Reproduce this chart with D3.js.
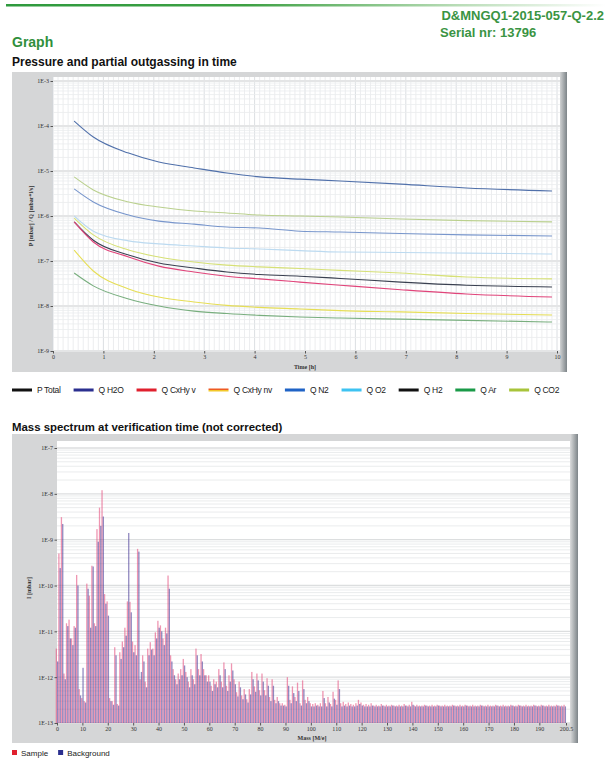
<!DOCTYPE html>
<html>
<head>
<meta charset="utf-8">
<script src="https://cdn.jsdelivr.net/npm/d3@7"></script>
<style>
    body { margin: 0; background: #fff; }
    svg { display: block; font-family: "Liberation Sans", Arial, sans-serif; }
    .axis text { font-family: "Liberation Serif", "DejaVu Serif", serif; font-size: 6px; fill: #333; }
    .axis line { stroke: #555; }
    .axis path { display: none; }
</style>
</head>
<body>
<svg id="page" width="606" height="760"></svg>
<script>
// --- Outgassing data (time in hours, values in mbar / mbar*l/s) ---
const times = [0.42, 0.8, 1.5, 2.1, 2.8, 3.45, 4.1, 4.9, 5.7, 6.9, 8.2, 9.9];
const pTotal  = [7.4e-7, 2.9e-7, 1.36e-7, 9.0e-8, 7.0e-8, 5.7e-8, 5.0e-8, 4.6e-8, 4.1e-8, 3.4e-8, 2.9e-8, 2.65e-8];
const qH2O    = [1.29e-4, 5.7e-5, 2.5e-5, 1.58e-5, 1.17e-5, 9.0e-6, 7.4e-6, 6.6e-6, 6.0e-6, 5.1e-6, 4.2e-6, 3.6e-6];
const qCxHyV  = [7.4e-7, 2.65e-7, 1.23e-7, 7.7e-8, 5.7e-8, 4.6e-8, 4.0e-8, 3.4e-8, 2.9e-8, 2.3e-8, 1.85e-8, 1.58e-8];
const qCxHyNv = [1.75e-7, 6.0e-8, 2.4e-8, 1.58e-8, 1.23e-8, 1.03e-8, 9.3e-9, 8.6e-9, 7.9e-9, 7.4e-9, 6.8e-9, 6.3e-9];
const qN2     = [4.0e-6, 2.05e-6, 1.05e-6, 7.7e-7, 6.6e-7, 5.7e-7, 5.4e-7, 4.6e-7, 4.4e-7, 4.1e-7, 3.8e-7, 3.6e-7];
const qO2     = [1.0e-6, 4.6e-7, 2.8e-7, 2.4e-7, 2.15e-7, 1.95e-7, 1.85e-7, 1.7e-7, 1.58e-7, 1.55e-7, 1.5e-7, 1.43e-7];
const qH2     = [9.0e-7, 3.8e-7, 1.75e-7, 1.23e-7, 9.5e-8, 8.1e-8, 7.4e-8, 6.8e-8, 6.2e-8, 5.4e-8, 4.4e-8, 4.0e-8];
const qAr     = [5.4e-8, 2.8e-8, 1.43e-8, 1.0e-8, 7.7e-9, 6.8e-9, 6.2e-9, 5.7e-9, 5.4e-9, 5.1e-9, 4.8e-9, 4.4e-9];
const qCO2    = [7.4e-6, 3.8e-6, 2.05e-6, 1.58e-6, 1.29e-6, 1.17e-6, 1.05e-6, 1.0e-6, 9.5e-7, 8.6e-7, 7.9e-7, 7.4e-7];

const seriesNames  = ["P Total", "Q H2O", "Q CxHy v", "Q CxHy nv", "Q N2", "Q O2", "Q H2", "Q Ar", "Q CO2"];
const seriesValues = [pTotal, qH2O, qCxHyV, qCxHyNv, qN2, qO2, qH2, qAr, qCO2];
const legendColors = ["#111111", "#2b2f8f", "#e0202e", "#f07a20", "#1f63c6", "#3ec3f2", "#111111", "#1a9a48", "#a8c43a"];
const lineColors   = ["#3a4050", "#5070aa", "#e0447a", "#e6de56", "#7896cc", "#bcdaf0", "#d6e076", "#78ae7e", "#bad08e"];

const timeTicks = [0, 1, 2, 3, 4, 5, 6, 7, 8, 9, 10];
const pressureTicks = [1e-9, 1e-8, 1e-7, 1e-6, 1e-5, 1e-4, 1e-3];

// --- Mass spectrum (index = mass M/e, intensity in mbar) ---
const sampleVals = [
    4.2e-12, 5.0e-10, 3.1e-9, 1.2e-12, 1.5e-11, 1.8e-11, 7e-12, 1.3e-11, 1.7e-10, 5.5e-13,
    3.5e-13, 3e-13, 1.1e-10, 6e-11, 2.7e-10, 1.5e-11, 1.7e-9, 5e-9, 1.2e-8, 6.5e-11,
    4.5e-11, 3.5e-13, 3e-13, 4.5e-12, 2.6e-13, 3.5e-12, 6e-12, 1.2e-11, 4.5e-11, 4.4e-11,
    6e-12, 5e-12, 6.3e-10, 9e-13, 3e-12, 8e-13, 4.2e-12, 5.8e-12, 4.2e-12, 9.5e-12,
    1.7e-11, 1.35e-11, 7e-12, 1.2e-11, 1.65e-10, 3e-12, 1.5e-12, 9e-13, 1.2e-12, 1.5e-12,
    2.5e-12, 1.3e-12, 8e-13, 1.5e-12, 9e-13, 4.2e-12, 1.5e-12, 3.2e-12, 1.5e-12, 1.1e-12,
    1.1e-12, 6.5e-13, 9e-13, 8e-13, 1.5e-12, 8e-13, 2.1e-12, 6.5e-13, 1.1e-12, 2e-12,
    9e-13, 4.7e-13, 8e-13, 4e-13, 5.5e-13, 3.3e-13, 5.5e-13, 1.3e-12, 6.3e-13, 1.2e-12,
    5.2e-13, 1.2e-12, 5.2e-13, 9.5e-13, 3.7e-13, 9e-13, 3.2e-13, 3.7e-13, 2.7e-13, 2.7e-13,
    2.5e-13, 1e-12, 3.2e-13, 6.3e-13, 3.7e-13, 7.6e-13, 2.7e-13, 8.5e-13, 3.2e-13, 3.7e-13,
    2.7e-13, 2.6e-13, 2.7e-13, 2.5e-13, 2.7e-13, 5e-13, 2.7e-13, 3.7e-13, 2.6e-13, 4.8e-13,
    3.2e-13, 8.5e-13, 2.7e-13, 2.9e-13, 2.6e-13, 2.8e-13, 2.6e-13, 2.5e-13, 2.7e-13, 3.2e-13,
    2.8e-13, 2.5e-13, 2.6e-13, 2.5e-13, 2.7e-13, 2.4e-13, 2.5e-13, 2.4e-13, 2.6e-13, 2.4e-13,
    2.5e-13, 2.4e-13, 2.5e-13, 2.4e-13, 2.4e-13, 2.5e-13, 2.4e-13, 2.6e-13, 2.4e-13, 2.5e-13,
    2.9e-13, 2.4e-13, 2.5e-13, 2.4e-13, 2.4e-13, 2.5e-13, 2.4e-13, 2.4e-13, 2.5e-13, 2.4e-13,
    2.5e-13, 2.4e-13, 2.4e-13, 2.5e-13, 2.4e-13, 2.4e-13, 2.5e-13, 2.4e-13, 2.4e-13, 2.5e-13,
    2.4e-13, 2.5e-13, 2.4e-13, 2.4e-13, 2.5e-13, 2.4e-13, 2.4e-13, 2.5e-13, 2.4e-13, 2.4e-13,
    2.5e-13, 2.4e-13, 2.4e-13, 2.5e-13, 2.4e-13, 2.4e-13, 2.5e-13, 2.4e-13, 2.4e-13, 2.5e-13,
    2.4e-13, 2.4e-13, 2.5e-13, 2.4e-13, 2.4e-13, 2.5e-13, 2.4e-13, 2.4e-13, 2.5e-13, 2.4e-13,
    2.4e-13, 2.5e-13, 2.4e-13, 2.4e-13, 2.5e-13, 2.4e-13, 2.4e-13, 2.5e-13, 2.4e-13, 2.4e-13,
    2.5e-13
];
const backgroundVals = [
    2.2e-12, 2.4e-10, 2.2e-9, 9e-13, 1.3e-11, 7e-12, 5e-12, 1.2e-11, 1.0e-10, 4e-13,
    1.6e-12, 2.8e-13, 8.5e-11, 1.2e-11, 2.6e-10, 1.3e-11, 9e-10, 2e-9, 3.2e-9, 4e-11,
    2.2e-11, 3e-13, 2.5e-13, 3e-12, 2.4e-13, 2.5e-12, 4.5e-12, 8e-12, 1.4e-9, 2.6e-11,
    3.5e-12, 3e-12, 5.5e-10, 1.3e-12, 2.2e-12, 6e-13, 3e-12, 4e-12, 3e-12, 7e-12,
    1.2e-11, 1e-11, 5e-12, 9e-12, 8.5e-11, 2.2e-12, 1.1e-12, 7e-13, 9e-13, 1.1e-12,
    1.8e-12, 1e-12, 6e-13, 1.1e-12, 7e-13, 3e-12, 1.1e-12, 2.2e-12, 1.1e-12, 8e-13,
    8e-13, 5e-13, 7e-13, 6e-13, 1.1e-12, 6e-13, 1.5e-12, 5e-13, 8e-13, 1.4e-12,
    7e-13, 3.8e-13, 6e-13, 3.3e-13, 4.2e-13, 2.8e-13, 4.2e-13, 9e-13, 4.8e-13, 8.5e-13,
    4e-13, 8e-13, 4e-13, 6.5e-13, 3e-13, 6.5e-13, 2.7e-13, 3e-13, 2.4e-13, 2.4e-13,
    2.3e-13, 6.5e-13, 2.7e-13, 4.5e-13, 3e-13, 5e-13, 2.4e-13, 5.5e-13, 2.7e-13, 3e-13,
    2.3e-13, 2.3e-13, 2.4e-13, 2.3e-13, 2.3e-13, 3.5e-13, 2.3e-13, 2.8e-13, 2.3e-13, 3.4e-13,
    2.5e-13, 5.5e-13, 2.3e-13, 2.4e-13, 2.3e-13, 2.4e-13, 2.3e-13, 2.3e-13, 2.4e-13, 2.6e-13,
    2.4e-13, 2.3e-13, 2.3e-13, 2.3e-13, 2.4e-13, 2.3e-13, 2.3e-13, 2.3e-13, 2.4e-13, 2.3e-13,
    2.3e-13, 2.3e-13, 2.4e-13, 2.3e-13, 2.3e-13, 2.3e-13, 2.3e-13, 2.4e-13, 2.3e-13, 2.3e-13,
    2.5e-13, 2.3e-13, 2.3e-13, 2.3e-13, 2.3e-13, 2.4e-13, 2.3e-13, 2.3e-13, 2.3e-13, 2.3e-13,
    2.4e-13, 2.3e-13, 2.3e-13, 2.3e-13, 2.3e-13, 2.3e-13, 2.4e-13, 2.3e-13, 2.3e-13, 2.3e-13,
    2.3e-13, 2.4e-13, 2.3e-13, 2.3e-13, 2.3e-13, 2.3e-13, 2.3e-13, 2.4e-13, 2.3e-13, 2.3e-13,
    2.3e-13, 2.3e-13, 2.3e-13, 2.4e-13, 2.3e-13, 2.3e-13, 2.3e-13, 2.3e-13, 2.3e-13, 2.4e-13,
    2.3e-13, 2.3e-13, 2.4e-13, 2.3e-13, 2.3e-13, 2.3e-13, 2.3e-13, 2.3e-13, 2.4e-13, 2.3e-13,
    2.3e-13, 2.4e-13, 2.3e-13, 2.3e-13, 2.3e-13, 2.3e-13, 2.3e-13, 2.4e-13, 2.3e-13, 2.3e-13,
    2.3e-13
];
const massTicks = [0, 10, 20, 30, 40, 50, 60, 70, 80, 90, 100, 110, 120, 130, 140, 150, 160, 170, 180, 190, 200.5];
const intensityTicks = [1e-13, 1e-12, 1e-11, 1e-10, 1e-9, 1e-8, 1e-7];

const spectrumNames  = ["Sample", "Background"];
const spectrumColors = ["#e0202e", "#2b2f8f"];
const barColors      = ["#e4507e", "#4a3c98"];

const expFormat = v => "1E" + Math.round(Math.log10(v));

const svg = d3.select("#page");
const defs = svg.append("defs");

// --- Header ---
const hdr = defs.append("linearGradient").attr("id", "hdrLine");
hdr.append("stop").attr("offset", "0%").attr("stop-color", "#2e9a3e");
hdr.append("stop").attr("offset", "40%").attr("stop-color", "#3da043");
hdr.append("stop").attr("offset", "75%").attr("stop-color", "#b8dcb6");
hdr.append("stop").attr("offset", "100%").attr("stop-color", "#ffffff");
svg.append("rect").attr("x", 6).attr("y", 4).attr("width", 600).attr("height", 2.5).attr("fill", "url(#hdrLine)");

svg.append("text").attr("x", 604).attr("y", 20).attr("text-anchor", "end")
    .attr("font-size", 13).attr("font-weight", "bold").attr("fill", "#3a9443")
    .text("D&MNGQ1-2015-057-Q-2.2");
svg.append("text").attr("x", 440).attr("y", 37)
    .attr("font-size", 13).attr("font-weight", "bold").attr("fill", "#3a9443")
    .text("Serial nr: 13796");
svg.append("text").attr("x", 12).attr("y", 47)
    .attr("font-size", 14).attr("font-weight", "bold").attr("fill", "#2f8f3c")
    .text("Graph");
svg.append("text").attr("x", 12).attr("y", 66)
    .attr("font-size", 12).attr("font-weight", "bold").attr("fill", "#111")
    .text("Pressure and partial outgassing in time");
svg.append("text").attr("x", 12).attr("y", 431)
    .attr("font-size", 11.4).attr("font-weight", "bold").attr("fill", "#111")
    .text("Mass spectrum at verification time (not corrected)");

// --- Panel helper ---
const edge = defs.append("linearGradient").attr("id", "panelEdge");
edge.append("stop").attr("offset", "0%").attr("stop-color", "#cfd1d2");
edge.append("stop").attr("offset", "100%").attr("stop-color", "#7d8488");

function panel(x0, y0, x1, y1) {
    svg.append("rect").attr("x", x0).attr("y", y0).attr("width", x1 - x0).attr("height", y1 - y0)
        .attr("fill", "#d5d6d7");
    svg.append("rect").attr("x", x1 - 7).attr("y", y0).attr("width", 7).attr("height", y1 - y0)
        .attr("fill", "url(#panelEdge)");
}

// ================= Chart 1: pressure / outgassing vs time =================
const c1 = { left: 53, right: 557, top: 81, bottom: 351 };
panel(12, 72, 567, 372);
svg.append("rect").attr("x", c1.left).attr("y", 77).attr("width", 507).attr("height", c1.bottom - 77)
    .attr("fill", "#fff");

const x1 = d3.scaleLinear().domain([0, 10]).range([c1.left, c1.right]);
const y1 = d3.scaleLog().domain([1e-9, 1e-3]).range([c1.bottom, c1.top]);

const g1 = svg.append("g");
// grid
g1.selectAll(".vmin").data(x1.ticks(100)).enter().append("line")
    .attr("x1", d => x1(d)).attr("x2", d => x1(d)).attr("y1", 77).attr("y2", c1.bottom)
    .attr("stroke", d => Math.abs(d - Math.round(d)) < 1e-6 ? "#d2d6da" : "#e7e9eb").attr("stroke-width", 0.8);
g1.selectAll(".hmin").data(y1.ticks()).enter().append("line")
    .attr("x1", c1.left).attr("x2", 560).attr("y1", d => y1(d)).attr("y2", d => y1(d))
    .attr("stroke", d => pressureTicks.includes(d) ? "#e4e5e6" : "#eaecee")
    .attr("stroke-width", d => pressureTicks.includes(d) ? 2.2 : 0.8);

// lines
const line1 = d3.line().x((d, i) => x1(times[i])).y(d => y1(d)).curve(d3.curveMonotoneX);
g1.selectAll(".series").data(seriesValues).enter().append("path")
    .attr("d", d => line1(d)).attr("fill", "none")
    .attr("stroke", (d, i) => lineColors[i]).attr("stroke-width", 1.1);

// axes
svg.append("g").attr("class", "axis").attr("transform", `translate(${c1.left},0)`)
    .call(d3.axisLeft(y1).tickValues(pressureTicks).tickFormat(expFormat).tickSize(2.5).tickPadding(1.5));
svg.append("g").attr("class", "axis").attr("transform", `translate(0,${c1.bottom})`)
    .call(d3.axisBottom(x1).tickValues(timeTicks).tickFormat(d3.format("d")).tickSize(2.5).tickPadding(1));
svg.append("text").attr("x", 305).attr("y", 369).attr("text-anchor", "middle")
    .attr("font-family", "Liberation Serif, serif").attr("font-size", 6).attr("font-weight", "bold").attr("fill", "#333")
    .text("Time [h]");
svg.append("text").attr("transform", "translate(33,216) rotate(-90)").attr("text-anchor", "middle")
    .attr("font-family", "Liberation Serif, serif").attr("font-size", 6).attr("font-weight", "bold").attr("fill", "#333")
    .text("P [mbar] / Q [mbar*l/s]");

// legend
const nvGrad = defs.append("linearGradient").attr("id", "nvGrad").attr("x1", 0).attr("x2", 0).attr("y1", 0).attr("y2", 1);
nvGrad.append("stop").attr("offset", "50%").attr("stop-color", "#ee5a22");
nvGrad.append("stop").attr("offset", "50%").attr("stop-color", "#f2c82a");

const leg1 = svg.append("g").attr("transform", "translate(12,390)");
let lx = 0;
seriesNames.forEach((name, i) => {
    const item = leg1.append("g").attr("transform", `translate(${lx},0)`);
    item.append("rect").attr("x", 0).attr("y", -1.5).attr("width", 20).attr("height", 3)
        .attr("fill", name === "Q CxHy nv" ? "url(#nvGrad)" : legendColors[i]);
    const t = item.append("text").attr("x", 25).attr("y", 3).attr("font-size", 8.5)
        .attr("letter-spacing", -0.3).attr("fill", "#222").text(name);
    lx += 25 + t.node().getComputedTextLength() + 13;
});

// ================= Chart 2: mass spectrum =================
const c2 = { left: 57, right: 566, top: 448, bottom: 723 };
panel(12, 434, 578, 743);
svg.append("rect").attr("x", c2.left).attr("y", 441).attr("width", 513).attr("height", c2.bottom - 441)
    .attr("fill", "#fff");

const x2 = d3.scaleLinear().domain([0, 200.5]).range([c2.left, c2.right]);
const y2 = d3.scaleLog().domain([1e-13, 1e-7]).range([c2.bottom, c2.top]);

const g2 = svg.append("g");
g2.selectAll(".hgrid").data(y2.ticks()).enter().append("line")
    .attr("x1", c2.left).attr("x2", 570).attr("y1", d => y2(d)).attr("y2", d => y2(d))
    .attr("stroke", d => intensityTicks.includes(d) ? "#dcdedf" : "#e8eaeb")
    .attr("stroke-width", d => intensityTicks.includes(d) ? 1.4 : 0.9);

const barW = 1.3;
const spectra = [sampleVals, backgroundVals];
const barOpacity = [0.6, 0.6];
spectra.forEach((vals, s) => {
    g2.selectAll(".bar" + s).data(vals).enter().append("rect")
        .attr("x", (d, m) => x2(m) + (s === 0 ? -barW : 0))
        .attr("y", d => y2(d))
        .attr("width", barW)
        .attr("height", d => c2.bottom - y2(d))
        .attr("fill", barColors[s])
        .attr("fill-opacity", barOpacity[s]);
});

svg.append("g").attr("class", "axis").attr("transform", `translate(${c2.left},0)`)
    .call(d3.axisLeft(y2).tickValues(intensityTicks).tickFormat(expFormat).tickSize(2.5).tickPadding(1.5));
svg.append("g").attr("class", "axis").attr("transform", `translate(0,${c2.bottom})`)
    .call(d3.axisBottom(x2).tickValues(massTicks).tickFormat(d => String(d)).tickSize(2.5).tickPadding(1));
svg.append("text").attr("x", 312).attr("y", 740).attr("text-anchor", "middle")
    .attr("font-family", "Liberation Serif, serif").attr("font-size", 6).attr("font-weight", "bold").attr("fill", "#333")
    .text("Mass [M/e]");
svg.append("text").attr("transform", "translate(31,588) rotate(-90)").attr("text-anchor", "middle")
    .attr("font-family", "Liberation Serif, serif").attr("font-size", 6).attr("font-weight", "bold").attr("fill", "#333")
    .text("I [mbar]");

// legend
const leg2 = svg.append("g").attr("transform", "translate(12,756)");
let lx2 = 0;
spectrumNames.forEach((name, i) => {
    const item = leg2.append("g").attr("transform", `translate(${lx2},0)`);
    item.append("rect").attr("x", 0).attr("y", -6).attr("width", 5).attr("height", 5).attr("fill", spectrumColors[i]);
    const t = item.append("text").attr("x", 9).attr("y", 0).attr("font-size", 8).attr("fill", "#222").text(name);
    lx2 += 9 + t.node().getComputedTextLength() + 10;
});
</script>
</body>
</html>
